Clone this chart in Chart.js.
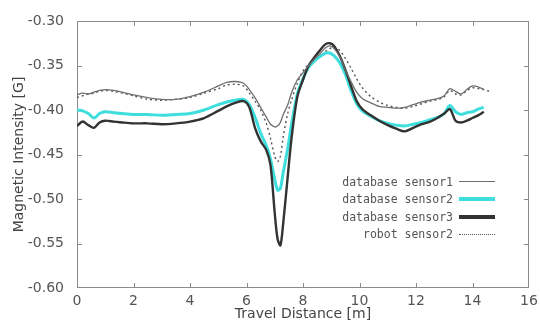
<!DOCTYPE html>
<html>
<head>
<meta charset="utf-8">
<script src="https://cdn.jsdelivr.net/npm/chart.js@4.4.1/dist/chart.umd.min.js"></script>
<style>
  body { margin: 0; background: #fff; }
  #wrap { position: relative; width: 540px; height: 323px; }
  #legend {
    position: absolute; right: 45px; top: 173px;
    font-family: "DejaVu Sans Mono", monospace; font-size: 11.5px; color: #555;
  }
  #legend .row { display: flex; align-items: center; justify-content: flex-end; height: 17.5px; }
  #legend .swatch { width: 36px; margin-left: 6px; }
</style>
</head>
<body>
<div id="wrap">
  <canvas id="chart" width="540" height="323"></canvas>
  <div id="legend"></div>
</div>
<script>
// 주행 거리 (m)
const distance = [0, 0.2, 0.4, 0.6, 0.8, 1.0, 1.3, 1.6, 2.0, 2.5, 3.0, 3.5, 4.0, 4.5, 5.0, 5.3, 5.6, 5.9,
  6.1, 6.3, 6.5, 6.7, 6.85, 7.0, 7.1, 7.2, 7.3, 7.45, 7.6, 7.8, 8.0, 8.2, 8.4, 8.6, 8.8, 8.95, 9.1, 9.3,
  9.5, 9.7, 9.9, 10.1, 10.4, 10.7, 11.0, 11.3, 11.6, 11.9, 12.2, 12.5, 12.8, 13.0, 13.2, 13.4, 13.6,
  13.8, 14.0, 14.2, 14.4, 14.6];

const dbSensor1 = [-0.383, -0.381, -0.382, -0.380, -0.378, -0.377, -0.378, -0.380, -0.383, -0.386, -0.388,
  -0.388, -0.385, -0.380, -0.373, -0.369, -0.368, -0.370, -0.377, -0.386, -0.397, -0.408, -0.416, -0.419,
  -0.418, -0.414, -0.405, -0.395, -0.380, -0.366, -0.358, -0.350, -0.343, -0.337, -0.330, -0.328, -0.331,
  -0.340, -0.355, -0.368, -0.380, -0.387, -0.392, -0.396, -0.397, -0.398, -0.397, -0.394, -0.391, -0.389,
  -0.387, -0.384, -0.376, -0.379, -0.382, -0.377, -0.373, -0.374, -0.377, null];

const dbSensor2 = [-0.400, -0.401, -0.404, -0.409, -0.404, -0.402, -0.403, -0.404, -0.405, -0.405, -0.406,
  -0.405, -0.404, -0.400, -0.394, -0.391, -0.389, -0.388, -0.394, -0.408, -0.426, -0.440, -0.455, -0.478,
  -0.490, -0.488, -0.470, -0.445, -0.415, -0.382, -0.365, -0.352, -0.345, -0.340, -0.336, -0.336, -0.339,
  -0.347, -0.360, -0.378, -0.393, -0.401, -0.407, -0.412, -0.415, -0.417, -0.418, -0.416, -0.414, -0.411,
  -0.408, -0.404, -0.395, -0.402, -0.405, -0.403, -0.402, -0.399, -0.397, null];

const dbSensor3 = [-0.418, -0.413, -0.417, -0.420, -0.414, -0.412, -0.413, -0.414, -0.415, -0.415, -0.416,
  -0.415, -0.413, -0.409, -0.401, -0.396, -0.392, -0.390, -0.397, -0.420, -0.435, -0.445, -0.462, -0.516,
  -0.545, -0.552, -0.527, -0.478, -0.430, -0.385, -0.366, -0.350, -0.341, -0.333, -0.326, -0.325, -0.328,
  -0.339, -0.355, -0.373, -0.390, -0.399, -0.406, -0.412, -0.417, -0.421, -0.424, -0.420, -0.416, -0.413,
  -0.408, -0.404, -0.399, -0.412, -0.414, -0.412, -0.409, -0.406, -0.402, null];

const robotSensor2 = [-0.386, -0.384, -0.382, -0.381, -0.379, -0.378, -0.379, -0.381, -0.384, -0.388, -0.389,
  -0.388, -0.386, -0.381, -0.376, -0.372, -0.371, -0.373, -0.381, -0.390, -0.400, -0.415, -0.432, -0.452,
  -0.458, -0.452, -0.430, -0.405, -0.388, -0.370, -0.356, -0.349, -0.345, -0.340, -0.334, -0.331, -0.329,
  -0.333, -0.342, -0.353, -0.365, -0.375, -0.385, -0.391, -0.395, -0.397, -0.398, -0.396, -0.393, -0.390,
  -0.388, -0.385, -0.378, -0.382, -0.383, -0.378, -0.375, -0.376, -0.377, -0.379];

const xTicks = [0, 2, 4, 6, 8, 10, 12, 14, 16];
const yTicks = [-0.30, -0.35, -0.40, -0.45, -0.50, -0.55, -0.60];

const seriesNames = ['database sensor1', 'database sensor2', 'database sensor3', 'robot sensor2'];
const seriesColors = ['#6e6e6e', '#3fdede', '#333333', '#555555'];
const seriesWidths = [1.3, 3, 2.4, 1.4];

function toPoints(values) {
  return distance.map((d, i) => ({ x: d, y: values[i] }));
}

// 안쪽 눈금과 테두리
const frameTicks = {
  id: 'frameTicks',
  beforeDatasetsDraw(chart) {
    const { ctx, chartArea: a, scales } = chart;
    ctx.save();
    ctx.strokeStyle = '#8a8a8a';
    ctx.lineWidth = 1;
    ctx.strokeRect(a.left + 0.5, a.top + 0.5, a.right - a.left - 1, a.bottom - a.top - 1);
    ctx.beginPath();
    xTicks.slice(1, -1).forEach(v => {
      const px = Math.round(scales.x.getPixelForValue(v)) + 0.5;
      ctx.moveTo(px, a.bottom); ctx.lineTo(px, a.bottom - 5);
      ctx.moveTo(px, a.top); ctx.lineTo(px, a.top + 5);
    });
    yTicks.slice(1, -1).forEach(v => {
      const py = Math.round(scales.y.getPixelForValue(v)) + 0.5;
      ctx.moveTo(a.left, py); ctx.lineTo(a.left + 5, py);
      ctx.moveTo(a.right, py); ctx.lineTo(a.right - 5, py);
    });
    ctx.stroke();
    ctx.restore();
  }
};

const datasets = [dbSensor1, dbSensor2, dbSensor3, robotSensor2].map((vals, i) => ({
  label: seriesNames[i],
  data: toPoints(vals),
  borderColor: seriesColors[i],
  borderWidth: seriesWidths[i],
  borderDash: i === 3 ? [2, 3] : [],
  pointRadius: 0,
  tension: 0.3,
  fill: false,
  spanGaps: false,
}));
// 그리는 순서: 점선 -> sensor2 -> sensor3 -> sensor1 위
const order = [0, 2, 1, 3];
datasets.forEach((ds, i) => { ds.order = order[i]; });

const tickFont = { family: 'DejaVu Sans', size: 14 };

new Chart(document.getElementById('chart').getContext('2d'), {
  type: 'line',
  data: { datasets },
  options: {
    responsive: false,
    animation: false,
    layout: { padding: { top: 21, right: 11, left: 0, bottom: 0 } },
    plugins: { legend: { display: false }, tooltip: { enabled: false } },
    scales: {
      x: {
        type: 'linear',
        min: 0, max: 16,
        afterBuildTicks: s => { s.ticks = xTicks.map(v => ({ value: v })); },
        afterFit: s => { s.height = 35; },
        grid: { display: false },
        border: { display: false },
        ticks: { font: tickFont, color: '#555', padding: -3, maxRotation: 0 },
        title: { display: true, text: 'Travel Distance [m]', font: { family: 'DejaVu Sans', size: 14 }, color: '#444', padding: { top: 0, bottom: 0 } }
      },
      y: {
        min: -0.60, max: -0.30,
        afterBuildTicks: s => { s.ticks = yTicks.map(v => ({ value: v })); },
        afterFit: s => { s.width = 77; },
        grid: { display: false },
        border: { display: false },
        ticks: { font: tickFont, color: '#555', padding: 5, callback: v => v.toFixed(2) },
        title: { display: true, text: 'Magnetic Intensity [G]', font: { family: 'DejaVu Sans', size: 14 }, color: '#444', padding: { top: 11, bottom: 0 } }
      }
    }
  },
  plugins: [frameTicks]
});

// 범례 (오른쪽 정렬 텍스트 + 선 샘플)
const legend = document.getElementById('legend');
seriesNames.forEach((name, i) => {
  const row = document.createElement('div');
  row.className = 'row';
  const label = document.createElement('span');
  label.textContent = name;
  const sw = document.createElement('span');
  sw.className = 'swatch';
  const w = i === 1 ? 4 : i === 2 ? 4 : 1.5;
  sw.style.borderTop = i === 3 ? `1.5px dotted ${seriesColors[i]}` : `${w}px solid ${seriesColors[i]}`;
  row.appendChild(label);
  row.appendChild(sw);
  legend.appendChild(row);
});
</script>
</body>
</html>
